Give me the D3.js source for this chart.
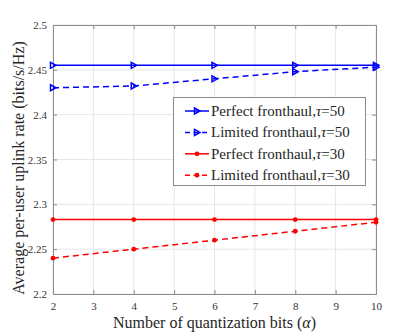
<!DOCTYPE html>
<html lang="en">
<head>
    <meta charset="utf-8">
    <title>Uplink rate vs quantization bits</title>
    <script src="https://d3js.org/d3.v7.min.js"></script>
    <style>
        body { margin: 0; background: #fff; }
    </style>
</head>
<body>
    <div id="chart"></div>
    <script>
        // Data
        const bits = [2, 4, 6, 8, 10];
        const perfect50 = [2.455, 2.455, 2.455, 2.455, 2.455];
        const limited50 = [2.430, 2.432, 2.440, 2.448, 2.453];
        const perfect30 = [2.283, 2.283, 2.283, 2.283, 2.283];
        const limited30 = [2.240, 2.250, 2.260, 2.270, 2.280];
        const xTicks = [2, 3, 4, 5, 6, 7, 8, 9, 10];
        const yTicks = [2.2, 2.25, 2.3, 2.35, 2.4, 2.45, 2.5];

        const series = [
            { name: "Perfect fronthaul,", tau: "50", values: perfect50, color: "#0000ff", dash: null, marker: "tri" },
            { name: "Limited fronthaul,", tau: "50", values: limited50, color: "#0000ff", dash: "6,4", marker: "tri" },
            { name: "Perfect fronthaul,", tau: "30", values: perfect30, color: "#ff0000", dash: null, marker: "dot" },
            { name: "Limited fronthaul,", tau: "30", values: limited30, color: "#ff0000", dash: "6,4", marker: "dot" }
        ];

        const FONT = "'Liberation Serif', 'Times New Roman', 'DejaVu Serif', serif";
        const width = 416, height = 333;
        const margin = { left: 53, right: 40, top: 25, bottom: 39 };

        const svg = d3.select("#chart").append("svg")
            .attr("width", width)
            .attr("height", height)
            .attr("font-family", FONT);

        const x = d3.scaleLinear().domain([2, 10]).range([margin.left, width - margin.right]);
        const y = d3.scaleLinear().domain([2.2, 2.5]).range([height - margin.bottom, margin.top]);

        // grid
        const grid = svg.append("g");
        xTicks.forEach(t => {
            grid.append("line")
                .attr("x1", x(t)).attr("x2", x(t))
                .attr("y1", y(2.2)).attr("y2", y(2.5))
                .attr("stroke", "#e6e6e6").attr("stroke-width", 1);
        });
        yTicks.forEach(t => {
            grid.append("line")
                .attr("x1", x(2)).attr("x2", x(10))
                .attr("y1", y(t)).attr("y2", y(t))
                .attr("stroke", "#e6e6e6").attr("stroke-width", 1);
        });

        // axes (MATLAB style box with inward ticks)
        svg.append("g")
            .attr("transform", `translate(0,${y(2.2)})`)
            .call(d3.axisBottom(x).tickValues(xTicks).tickSize(-4).tickPadding(8).tickFormat(d3.format("d")));
        svg.append("g")
            .attr("transform", `translate(${x(2)},0)`)
            .call(d3.axisLeft(y).tickValues(yTicks).tickSize(-4).tickPadding(6).tickFormat(d => String(d)));
        svg.append("g")
            .attr("transform", `translate(0,${y(2.5)})`)
            .call(d3.axisTop(x).tickValues(xTicks).tickSize(-4).tickFormat(""));
        svg.append("g")
            .attr("transform", `translate(${x(10)},0)`)
            .call(d3.axisRight(y).tickValues(yTicks).tickSize(-4).tickFormat(""));

        svg.selectAll("g").attr("font-family", FONT);
        svg.selectAll(".domain").attr("stroke", "#8c8c8c");
        svg.selectAll(".tick line").attr("stroke", "#8c8c8c");
        svg.selectAll(".tick text").attr("font-size", 11).attr("fill", "#333");

        // lines
        const line = d3.line()
            .x((d, i) => x(bits[i]))
            .y(d => y(d));

        function drawMarker(g, cx, cy, s) {
            if (s.marker === "tri") {
                g.append("path")
                    .attr("d", `M${cx - 2.5},${cy - 3} L${cx + 3},${cy} L${cx - 2.5},${cy + 3} Z`)
                    .attr("fill", "none")
                    .attr("stroke", s.color)
                    .attr("stroke-width", 1.5);
            } else {
                g.append("circle")
                    .attr("cx", cx).attr("cy", cy).attr("r", 2.4)
                    .attr("fill", s.color);
            }
        }

        const plot = svg.append("g");
        series.forEach(s => {
            plot.append("path")
                .datum(s.values)
                .attr("d", line)
                .attr("fill", "none")
                .attr("stroke", s.color)
                .attr("stroke-width", 1.5)
                .attr("stroke-dasharray", s.dash);
            s.values.forEach((v, i) => drawMarker(plot, x(bits[i]), y(v), s));
        });

        // legend
        const lg = svg.append("g");
        lg.append("rect")
            .attr("x", 173.5).attr("y", 97.5)
            .attr("width", 192).attr("height", 88)
            .attr("fill", "#fff")
            .attr("stroke", "#8c8c8c");
        series.forEach((s, i) => {
            const ly = 111 + i * 21.4;
            lg.append("line")
                .attr("x1", 185).attr("x2", 209)
                .attr("y1", ly).attr("y2", ly)
                .attr("stroke", s.color)
                .attr("stroke-width", 1.5)
                .attr("stroke-dasharray", s.dash ? "5,3.5" : null);
            drawMarker(lg, 197, ly, s);
            const t = lg.append("text")
                .attr("x", 211)
                .attr("y", ly + 5)
                .attr("font-size", 15)
                .attr("fill", "#262626");
            t.append("tspan").text(s.name);
            t.append("tspan").attr("font-style", "italic").text("τ");
            t.append("tspan").text("=" + s.tau);
        });

        // axis labels
        const xl = svg.append("text")
            .attr("x", (x(2) + x(10)) / 2)
            .attr("y", 327.5)
            .attr("text-anchor", "middle")
            .attr("font-size", 16)
            .attr("fill", "#262626");
        xl.append("tspan").text("Number of quantization bits (");
        xl.append("tspan").attr("font-style", "italic").text("α");
        xl.append("tspan").text(")");

        svg.append("text")
            .attr("transform", "translate(24,168) rotate(-90)")
            .attr("text-anchor", "middle")
            .attr("font-size", 16)
            .attr("fill", "#262626")
            .text("Average per-user uplink rate (bits/s/Hz)");
    </script>
</body>
</html>
